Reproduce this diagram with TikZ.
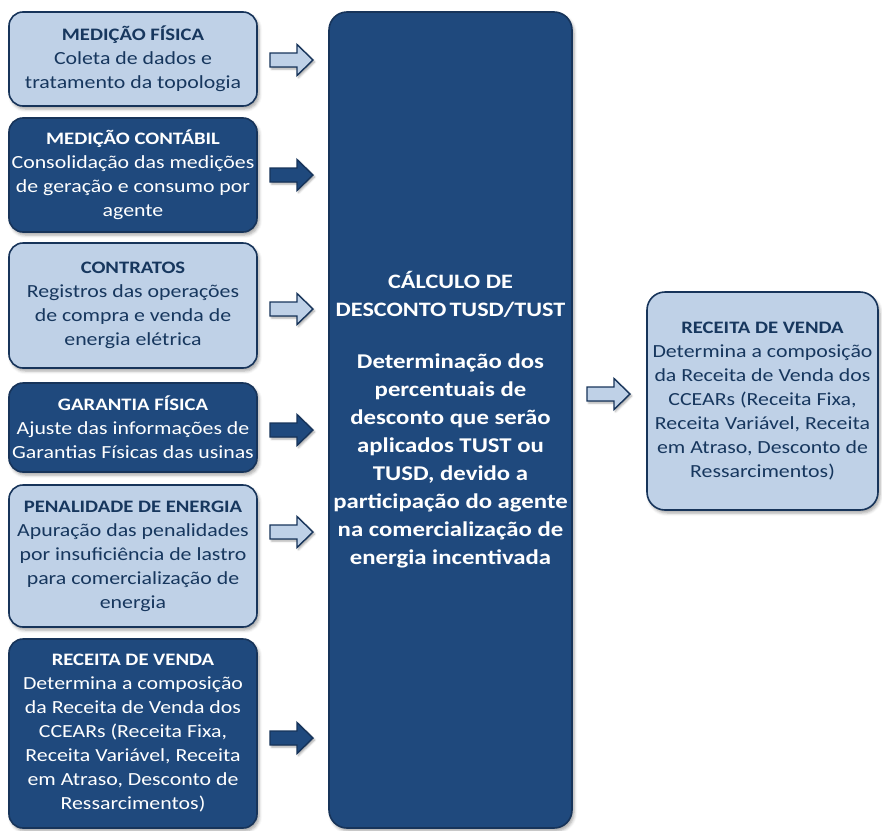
\documentclass[tikz,border=0pt]{standalone}
\usepackage{fontspec}
\setmainfont{Carlito}[FakeStretch=1.18]
\usetikzlibrary{shadows.blur}
\definecolor{darkblue}{HTML}{1F497D}
\definecolor{lightblue}{HTML}{BFD1E7}
\definecolor{edgeblue}{HTML}{17345A}
\definecolor{navytext}{HTML}{17375E}
\newcommand{\ttl}[1]{{\fontsize{17.5}{24}\selectfont\bfseries #1}}
\tikzset{
  box/.style={draw=edgeblue, line width=1.6pt, rounded corners=14pt, inner sep=0pt, align=center,
    blur shadow={shadow xshift=2pt, shadow yshift=-3pt, shadow blur radius=3pt, shadow opacity=35}},
  darkbox/.style={box, fill=darkblue, text=white},
  lightbox/.style={box, fill=lightblue, text=navytext},
  small/.style={font=\fontsize{18.5}{24}\selectfont},
  big/.style={font=\fontsize{21}{28}\selectfont\bfseries},
  arrowstyle/.style={draw=edgeblue, line width=1.4pt, line join=miter,
    blur shadow={shadow xshift=1.5pt, shadow yshift=-2pt, shadow blur radius=2pt, shadow opacity=35}},
  darkarrow/.style={arrowstyle, fill=darkblue},
  lightarrow/.style={arrowstyle, fill=lightblue},
  pics/barrow/.style={code={\path[#1] (0,-7) -- (27,-7) -- (27,-15.5) -- (43,0) -- (27,15.5) -- (27,7) -- (0,7) -- cycle;}}
}
\begin{document}
\begin{tikzpicture}[x=1pt,y=-1pt]
\useasboundingbox (0,0) rectangle (882,830);

\node[lightbox, small, minimum width=248pt, minimum height=94pt] (b1) at (133,59)
  {\ttl{MEDIÇÃO FÍSICA}\\Coleta de dados e\\tratamento da topologia};
\node[darkbox, small, minimum width=248pt, minimum height=114pt] (b2) at (133,175)
  {\ttl{MEDIÇÃO CONTÁBIL}\\Consolidação das medições\\de geração e consumo\ por\\agente};
\node[lightbox, small, minimum width=248pt, minimum height=125pt] (b3) at (133,305.5)
  {\ttl{CONTRATOS}\\Registros das operações\\de compra e venda de\\energia elétrica};
\node[darkbox, small, minimum width=248pt, minimum height=89pt] (b4) at (133,427.5)
  {\ttl{GARANTIA FÍSICA}\\Ajuste das informações de\\Garantias Físicas das usinas};
\node[lightbox, small, minimum width=248pt, minimum height=142pt] (b5) at (133,556)
  {\ttl{PENALIDADE DE ENERGIA}\\Apuração das penalidades\\por insuficiência de lastro\\para comercialização de\\energia};
\node[darkbox, small, minimum width=248pt, minimum height=189pt] (b6) at (133,733.5)
  {\ttl{RECEITA DE VENDA}\\Determina a composição\\da Receita de Venda dos\\CCEARs (Receita Fixa,\\Receita Variável, Receita\\em Atraso, Desconto de\\Ressarcimentos)};

\node[darkbox, big, rounded corners=18pt, minimum width=243pt, minimum height=816pt] (c) at (450.5,420)
  {{\fontsize{20.5}{28}\selectfont CÁLCULO DE}\\{\fontsize{20.5}{28}\selectfont DESCONTO\hspace{3pt}TUSD/TUST}\\[24pt]Determinação dos\\percentuais de\\desconto que serão\\aplicados\ TUST ou\\TUSD, devido a\\participação do agente\\na comercialização de\\energia incentivada};

\node[lightbox, small, rounded corners=18pt, minimum width=231pt, minimum height=218pt] (r) at (762.5,401)
  {\ttl{RECEITA DE VENDA}\\Determina a composição\\da Receita de Venda dos\\CCEARs (Receita Fixa,\\Receita Variável, Receita\\em Atraso, Desconto de\\Ressarcimentos)};

\pic (a1) at (270,60) {barrow=lightarrow};
\pic (a2) at (270,175) {barrow=darkarrow};
\pic (a3) at (270,309) {barrow=lightarrow};
\pic (a4) at (270,430) {barrow=darkarrow};
\pic (a5) at (270,532) {barrow=lightarrow};
\pic (a6) at (270,738) {barrow=darkarrow};
\pic (a7) at (587,394) {barrow=lightarrow};
\end{tikzpicture}
\end{document}
